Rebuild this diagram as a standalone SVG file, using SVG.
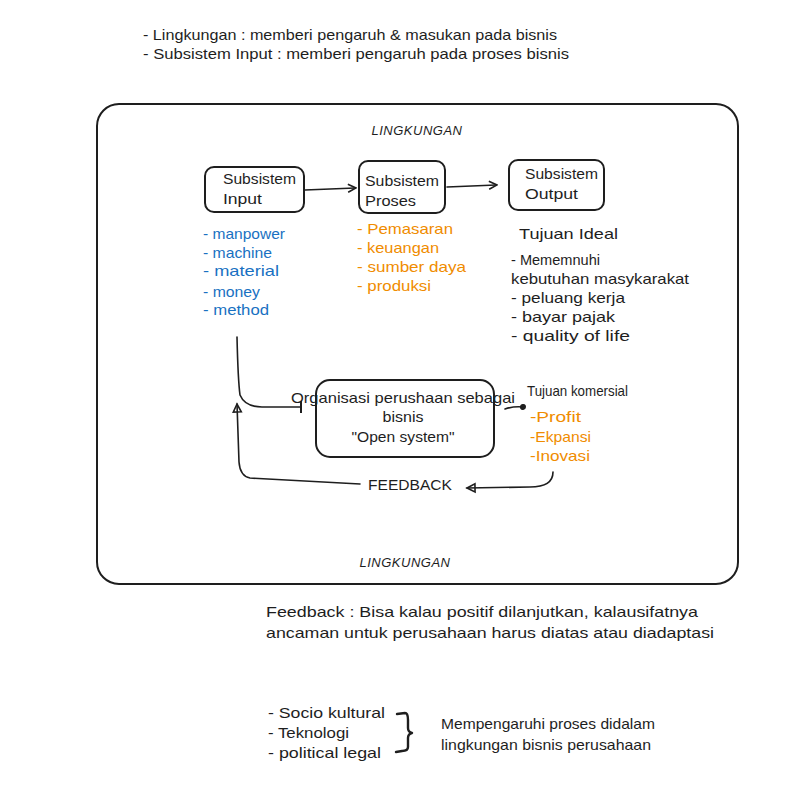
<svg xmlns="http://www.w3.org/2000/svg" width="788" height="796" viewBox="0 0 788 796">
<style>
.t{font-family:"Liberation Sans","Open Sans",sans-serif;font-size:15px;fill:#1e1e1e}
.b{fill:#1971c2}
.o{fill:#f08c00}
.cap{font-family:"Liberation Sans",sans-serif;font-size:13px;font-style:italic;fill:#1e1e1e;letter-spacing:0.5px}
.box{fill:none;stroke:#1e1e1e;stroke-width:2}
.ln{fill:none;stroke:#1e1e1e;stroke-width:1.6;stroke-linecap:round;stroke-linejoin:round}
</style>
<defs>
<marker id="ah" markerWidth="10" markerHeight="10" refX="8" refY="5" orient="auto" markerUnits="userSpaceOnUse">
<path d="M1,1 L9,5 L1,9" fill="none" stroke="#1e1e1e" stroke-width="1.6"/>
</marker>
<marker id="dot" markerWidth="8" markerHeight="8" refX="4" refY="4" orient="auto" markerUnits="userSpaceOnUse">
<circle cx="4" cy="4" r="3" fill="#1e1e1e"/>
</marker>
<marker id="bar" markerWidth="4" markerHeight="12" refX="2" refY="6" orient="auto" markerUnits="userSpaceOnUse">
<path d="M2,0 L2,12" stroke="#1e1e1e" stroke-width="2"/>
</marker>
<marker id="tri" markerWidth="12" markerHeight="12" refX="10" refY="6" orient="auto" markerUnits="userSpaceOnUse">
<path d="M10,6 L2,2 L2,10 Z" fill="none" stroke="#1e1e1e" stroke-width="1.6"/>
</marker>
</defs>
<rect width="788" height="796" fill="#ffffff"/>

<g id="notes-top">
<text class="t" x="143" y="40" textLength="414" lengthAdjust="spacingAndGlyphs">- Lingkungan : memberi pengaruh &amp; masukan pada bisnis</text>
<text class="t" x="143" y="59" textLength="426" lengthAdjust="spacingAndGlyphs">- Subsistem Input : memberi pengaruh pada proses bisnis</text>
</g>

<g id="lingkungan">
<rect class="box" x="97" y="104" width="641" height="480" rx="22"/>
<text class="cap" x="417" y="135" text-anchor="middle">LINGKUNGAN</text>
<text class="cap" x="405" y="567" text-anchor="middle">LINGKUNGAN</text>
</g>

<g id="subsistem-input">
<rect class="box" x="205" y="167" width="99" height="45" rx="9"/>
<text class="t" x="223" y="184" textLength="73" lengthAdjust="spacingAndGlyphs">Subsistem</text>
<text class="t" x="223" y="204" textLength="39" lengthAdjust="spacingAndGlyphs">Input</text>
</g>
<g id="subsistem-proses">
<rect class="box" x="359" y="161" width="86" height="52" rx="9"/>
<text class="t" x="365" y="186" textLength="74" lengthAdjust="spacingAndGlyphs">Subsistem</text>
<text class="t" x="365" y="206" textLength="51" lengthAdjust="spacingAndGlyphs">Proses</text>
</g>
<g id="subsistem-output">
<rect class="box" x="509" y="160" width="95" height="50" rx="9"/>
<text class="t" x="525" y="179" textLength="73" lengthAdjust="spacingAndGlyphs">Subsistem</text>
<text class="t" x="525" y="199" textLength="53" lengthAdjust="spacingAndGlyphs">Output</text>
</g>

<g id="input-list">
<text class="t b" x="203" y="239" textLength="82" lengthAdjust="spacingAndGlyphs">- manpower</text>
<text class="t b" x="203" y="258" textLength="69" lengthAdjust="spacingAndGlyphs">- machine</text>
<text class="t b" x="203" y="276" textLength="76" lengthAdjust="spacingAndGlyphs">- material</text>
<text class="t b" x="203" y="297" textLength="57" lengthAdjust="spacingAndGlyphs">- money</text>
<text class="t b" x="203" y="315" textLength="66" lengthAdjust="spacingAndGlyphs">- method</text>
</g>
<g id="proses-list">
<text class="t o" x="357" y="234" textLength="96" lengthAdjust="spacingAndGlyphs">- Pemasaran</text>
<text class="t o" x="357" y="253" textLength="82" lengthAdjust="spacingAndGlyphs">- keuangan</text>
<text class="t o" x="357" y="272" textLength="109" lengthAdjust="spacingAndGlyphs">- sumber daya</text>
<text class="t o" x="357" y="291" textLength="74" lengthAdjust="spacingAndGlyphs">- produksi</text>
</g>
<g id="tujuan-ideal">
<text class="t" x="519" y="239" textLength="99" lengthAdjust="spacingAndGlyphs">Tujuan Ideal</text>
<text class="t" x="511" y="265" textLength="89" lengthAdjust="spacingAndGlyphs">- Mememnuhi</text>
<text class="t" x="511" y="284" textLength="178" lengthAdjust="spacingAndGlyphs">kebutuhan masykarakat</text>
<text class="t" x="511" y="303" textLength="114" lengthAdjust="spacingAndGlyphs">- peluang kerja</text>
<text class="t" x="511" y="322" textLength="104" lengthAdjust="spacingAndGlyphs">- bayar pajak</text>
<text class="t" x="511" y="341" textLength="119" lengthAdjust="spacingAndGlyphs">- quality of life</text>
</g>

<g id="organisasi">
<rect class="box" x="316" y="380" width="178" height="77" rx="14"/>
<text class="t" x="403" y="403" text-anchor="middle" textLength="224" lengthAdjust="spacingAndGlyphs">Organisasi perushaan sebagai</text>
<text class="t" x="403" y="422" text-anchor="middle" textLength="41" lengthAdjust="spacingAndGlyphs">bisnis</text>
<text class="t" x="403" y="442" text-anchor="middle" textLength="103" lengthAdjust="spacingAndGlyphs">"Open system"</text>
</g>
<g id="tujuan-komersial">
<text class="t" x="527" y="396" textLength="101" lengthAdjust="spacingAndGlyphs">Tujuan komersial</text>
<text class="t o" x="530" y="422" textLength="51" lengthAdjust="spacingAndGlyphs">-Profit</text>
<text class="t o" x="530" y="442" textLength="61" lengthAdjust="spacingAndGlyphs">-Ekpansi</text>
<text class="t o" x="530" y="461" textLength="60" lengthAdjust="spacingAndGlyphs">-Inovasi</text>
</g>
<g id="feedback-label">
<text class="t" x="368" y="490" textLength="84" lengthAdjust="spacingAndGlyphs">FEEDBACK</text>
</g>

<g id="connectors">
<path class="ln" d="M305,190 Q330,189 355,188" marker-end="url(#ah)"/>
<path class="ln" d="M447,187 Q472,186 496,185" marker-end="url(#ah)"/>
<path class="ln" d="M237,337 Q238,380 240,395 Q245,407 262,407 L301,407" marker-end="url(#bar)"/>
<path class="ln" d="M505,409 Q514,406 523,407" marker-end="url(#dot)"/>
<path class="ln" d="M553,472 Q553,487 530,487 L467,488" marker-end="url(#tri)"/>
<path class="ln" d="M360,484 L250,478 Q240,476 239,462 L237,404" marker-end="url(#tri)"/>
</g>

<g id="notes-feedback">
<text class="t" x="266" y="617" textLength="432" lengthAdjust="spacingAndGlyphs">Feedback : Bisa kalau positif dilanjutkan, kalausifatnya</text>
<text class="t" x="266" y="638" textLength="448" lengthAdjust="spacingAndGlyphs">ancaman untuk perusahaan harus diatas atau diadaptasi</text>
</g>

<g id="notes-bottom">
<text class="t" x="268" y="718" textLength="117" lengthAdjust="spacingAndGlyphs">- Socio kultural</text>
<text class="t" x="268" y="738" textLength="81" lengthAdjust="spacingAndGlyphs">- Teknologi</text>
<text class="t" x="268" y="758" textLength="113" lengthAdjust="spacingAndGlyphs">- political legal</text>
<path d="M397,714 L405,713 Q408,713 408,720 L408,728 Q408,732 412,733 Q408,734 408,738 L408,747 Q408,751 402,751 L396,752" fill="none" stroke="#1e1e1e" stroke-width="2.4" stroke-linecap="round" stroke-linejoin="round"/>
<text class="t" x="441" y="729" textLength="214" lengthAdjust="spacingAndGlyphs">Mempengaruhi proses didalam</text>
<text class="t" x="441" y="750" textLength="210" lengthAdjust="spacingAndGlyphs">lingkungan bisnis perusahaan</text>
</g>
</svg>
